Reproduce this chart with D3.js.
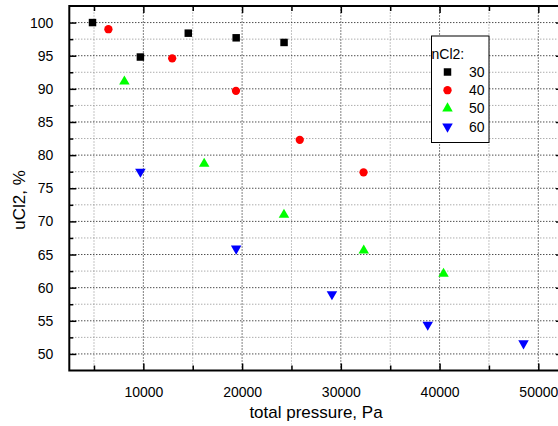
<!DOCTYPE html>
<html>
<head>
<meta charset="utf-8">
<script src="https://cdn.jsdelivr.net/npm/d3@7"></script>
<style>
    body { margin: 0; background: #fff; }
    svg { display: block; font-family: "Liberation Sans", Arial, sans-serif; }
</style>
</head>
<body>
<div id="chart"></div>
<script>
// data
const seriesNames = ["30", "40", "50", "60"];
const pressure30 = [4850, 9700, 14550, 19400, 24250];
const u30 = [100, 94.8, 98.4, 97.7, 97.0];
const pressure40 = [6460, 12920, 19380, 25840, 32300];
const u40 = [99.0, 94.6, 89.7, 82.3, 77.4];
const pressure50 = [8080, 16160, 24240, 32320, 40400];
const u50 = [91.1, 78.7, 71.0, 65.6, 62.1];
const pressure60 = [9700, 19400, 29100, 38800, 48500];
const u60 = [77.5, 65.9, 59.0, 54.4, 51.6];
const xTicks = [10000, 20000, 30000, 40000, 50000];
const yTicks = [50, 55, 60, 65, 70, 75, 80, 85, 90, 95, 100];

const width = 558, height = 426;

let series = [
    {name: seriesNames[0], xs: pressure30, ys: u30, color: "#000000", shape: d3.symbolSquare, size: 56, rot: 0},
    {name: seriesNames[1], xs: pressure40, ys: u40, color: "#ff0000", shape: d3.symbolCircle, size: 54, rot: 0},
    {name: seriesNames[2], xs: pressure50, ys: u50, color: "#00ff00", shape: d3.symbolTriangle, size: 48, rot: 0},
    {name: seriesNames[3], xs: pressure60, ys: u60, color: "#0000ff", shape: d3.symbolTriangle, size: 48, rot: 180}
];

let x = d3.scaleLinear().domain([2500, 52500]).range([69.3, 563]);
let y = d3.scaleLinear().domain([47.5, 102.5]).range([370.5, 6]);

let svg = d3.select("#chart").append("svg")
    .attr("width", width)
    .attr("height", height);

let x0 = x.range()[0], x1 = x.range()[1];
let y0 = y.range()[0], y1 = y.range()[1];

// minor ticks are halfway between the major ones
let xMinor = d3.range(5000, 52500, 10000);
let yMinor = d3.range(47.5, 102.5, 5).filter(v => v > 47.5);

// grid
let grid = svg.append("g");
grid.selectAll(".gxm").data(xMinor).enter().append("line")
    .attr("x1", d => x(d)).attr("x2", d => x(d))
    .attr("y1", y0).attr("y2", y1)
    .attr("stroke", "#888").attr("stroke-dasharray", "1,2");
grid.selectAll(".gym").data(yMinor).enter().append("line")
    .attr("x1", x0).attr("x2", x1)
    .attr("y1", d => y(d)).attr("y2", d => y(d))
    .attr("stroke", "#888").attr("stroke-dasharray", "1,2");
grid.selectAll(".gx").data(xTicks).enter().append("line")
    .attr("x1", d => x(d)).attr("x2", d => x(d))
    .attr("y1", y0).attr("y2", y1)
    .attr("stroke", "#000").attr("stroke-dasharray", "1,2");
grid.selectAll(".gy").data(yTicks).enter().append("line")
    .attr("x1", x0).attr("x2", x1)
    .attr("y1", d => y(d)).attr("y2", d => y(d))
    .attr("stroke", "#000").attr("stroke-dasharray", "1,2");

// axes, ticks pointing inward on all four sides
function styleAxis(g) {
    g.select(".domain").remove();
    g.selectAll(".tick line").attr("stroke", "#000").attr("stroke-width", 1.5);
    g.selectAll(".tick text").attr("fill", "#000").style("font-size", "14px");
}

svg.append("g").attr("transform", `translate(0,${y0})`)
    .call(d3.axisBottom(x).tickValues(xMinor).tickSize(-5).tickFormat(""))
    .call(styleAxis);
svg.append("g").attr("transform", `translate(0,${y0})`)
    .call(d3.axisBottom(x).tickValues(xTicks).tickSize(-7).tickPadding(17).tickFormat(d3.format("d")))
    .call(styleAxis);
svg.append("g").attr("transform", `translate(0,${y1})`)
    .call(d3.axisTop(x).tickValues(xMinor).tickSize(-5).tickFormat(""))
    .call(styleAxis);
svg.append("g").attr("transform", `translate(0,${y1})`)
    .call(d3.axisTop(x).tickValues(xTicks).tickSize(-7).tickFormat(""))
    .call(styleAxis);

svg.append("g").attr("transform", `translate(${x0},0)`)
    .call(d3.axisLeft(y).tickValues(yMinor).tickSize(-4).tickFormat(""))
    .call(styleAxis);
svg.append("g").attr("transform", `translate(${x0},0)`)
    .call(d3.axisLeft(y).tickValues(yTicks).tickSize(-7).tickPadding(16).tickFormat(d3.format("d")))
    .call(styleAxis);
svg.append("g").attr("transform", `translate(${x1},0)`)
    .call(d3.axisRight(y).tickValues(yMinor).tickSize(-4).tickFormat(""))
    .call(styleAxis);
svg.append("g").attr("transform", `translate(${x1},0)`)
    .call(d3.axisRight(y).tickValues(yTicks).tickSize(-7).tickFormat(""))
    .call(styleAxis);

// frame
svg.append("rect")
    .attr("x", x0).attr("y", y1)
    .attr("width", x1 - x0).attr("height", y0 - y1)
    .attr("fill", "none").attr("stroke", "#000").attr("stroke-width", 2);

// points
series.forEach(s => {
    let sym = d3.symbol().type(s.shape).size(s.size);
    svg.append("g").selectAll("path")
        .data(s.xs.map((v, i) => [v, s.ys[i]]))
        .enter().append("path")
        .attr("d", sym)
        .attr("transform", d => `translate(${x(d[0])},${y(d[1])}) rotate(${s.rot})`)
        .attr("fill", s.color);
});

// axis titles
svg.append("text")
    .attr("x", 316).attr("y", 418)
    .attr("text-anchor", "middle")
    .style("font-size", "17px")
    .text("total pressure, Pa");

svg.append("text")
    .attr("transform", "translate(25,200) rotate(-90)")
    .attr("text-anchor", "middle")
    .style("font-size", "17px")
    .text("uCl2, %");

// legend
let legend = svg.append("g");
legend.append("rect")
    .attr("x", 431.5).attr("y", 36)
    .attr("width", 57.5).attr("height", 106.5)
    .attr("fill", "#fff").attr("stroke", "#000").attr("stroke-width", 1);
legend.append("text")
    .attr("x", 431.5).attr("y", 59)
    .style("font-size", "14px")
    .text("nCl2:");

let rows = legend.selectAll(".row").data(series).enter().append("g")
    .attr("transform", (d, i) => `translate(0,${72 + i * 18.2})`);
rows.append("path")
    .attr("d", d => d3.symbol().type(d.shape).size(d.size)())
    .attr("transform", d => `translate(447.5,0) rotate(${d.rot})`)
    .attr("fill", d => d.color);
rows.append("text")
    .attr("x", 484.5).attr("y", 5)
    .attr("text-anchor", "end")
    .style("font-size", "14px")
    .text(d => d.name);
</script>
</body>
</html>
